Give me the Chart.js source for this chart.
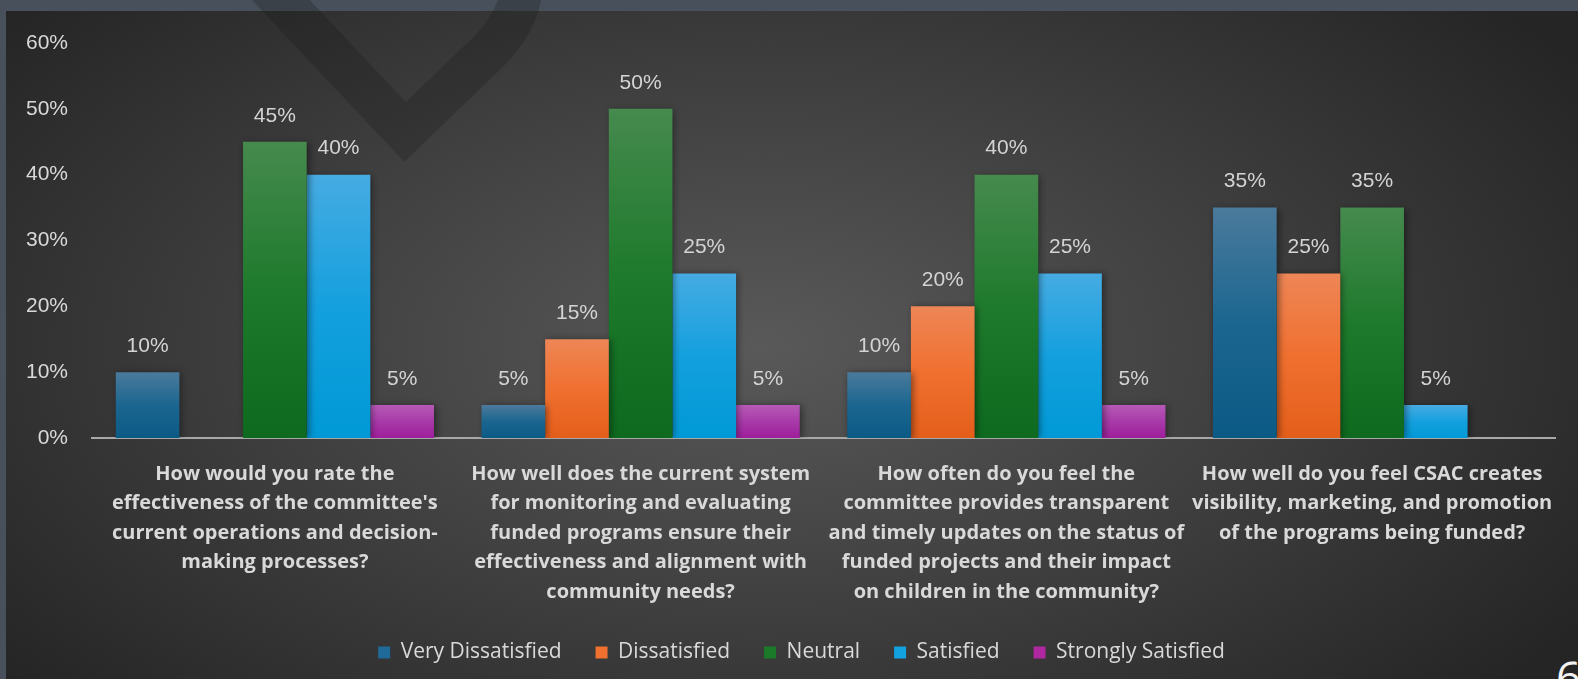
<!DOCTYPE html>
<html>
<head>
<meta charset="utf-8">
<script src="https://cdn.jsdelivr.net/npm/chart.js@4.4.1/dist/chart.umd.min.js"></script>
<style>
  html, body { margin: 0; padding: 0; width: 1578px; height: 679px; overflow: hidden; background: #48505b; }
  #panel { position: absolute; left: 6px; top: 11px; width: 1572px; height: 668px;
    background: radial-gradient(ellipse 62% 78% at 48% 50%, #595959 0%, #3d3d3d 55%, #252525 100%); }
  #wrap { position: absolute; left: 0; top: 0; width: 1578px; height: 679px; }
  #pg { position: absolute; left: 1556px; top: 646px; font: 44px "Open Sans", sans-serif; color: #f2f2f2; }
</style>
</head>
<body>
<div id="panel"></div>
<div id="pg">6</div>
<div id="wrap"><canvas id="c" width="1578" height="679"></canvas></div>
<script>
const categories = [
  ["How would you rate the", "effectiveness of the committee's", "current operations and decision-", "making processes?"],
  ["How well does the current system", "for monitoring and evaluating", "funded programs ensure their", "effectiveness and alignment with", "community needs?"],
  ["How often do you feel the", "committee provides transparent", "and timely updates on the status of", "funded projects and their impact", "on children in the community?"],
  ["How well do you feel CSAC creates", "visibility, marketing, and promotion", "of the programs being funded?"]
];
const seriesNames = ["Very Dissatisfied", "Dissatisfied", "Neutral", "Satisfied", "Strongly Satisfied"];
const veryDissatisfied = [10, 5, 10, 35];
const dissatisfied = [null, 15, 20, 25];
const neutral = [45, 50, 40, 35];
const satisfied = [40, 25, 25, 5];
const stronglySatisfied = [5, 5, 5, null];
const yTicks = [0, 10, 20, 30, 40, 50, 60];

const palettes = [
  { solid: '#1f6a98', stops: ['#4b7a9c', '#1b6690', '#0b5a85'] },
  { solid: '#f07030', stops: ['#ee8656', '#f07030', '#e45e1a'] },
  { solid: '#1a7a2a', stops: ['#468a4e', '#1e7a2c', '#0d6a1e'] },
  { solid: '#12a2e0', stops: ['#46abe2', '#14a0de', '#0099d6'] },
  { solid: '#b0289f', stops: ['#b65ab6', '#a83aa8', '#9e1e9c'] }
];

function gradientFill(idx) {
  return (context) => {
    const chart = context.chart;
    const p = palettes[idx];
    if (!chart.chartArea || context.raw == null) return p.solid;
    const y = chart.scales.y;
    const top = y.getPixelForValue(context.raw);
    const bottom = y.getPixelForValue(0);
    if (!(bottom > top)) return p.solid;
    const g = chart.ctx.createLinearGradient(0, top, 0, bottom);
    g.addColorStop(0, p.stops[0]);
    g.addColorStop(0.5, p.stops[1]);
    g.addColorStop(1, p.stops[2]);
    return g;
  };
}

const seriesData = [veryDissatisfied, dissatisfied, neutral, satisfied, stronglySatisfied];

const decor = {
  id: 'decor',
  afterLayout(chart) {
    const L = chart.legend;
    if (L) { L.left += 24; L.right += 24; }
  },
  beforeDraw(chart) {
    const c = chart.ctx;
    c.save();
    c.strokeStyle = 'rgba(22,22,22,0.26)';
    c.lineWidth = 42;
    c.lineJoin = 'miter';
    c.beginPath();
    c.moveTo(262, -20);
    c.lineTo(405, 132);
    c.lineTo(488, 52);
    c.quadraticCurveTo(522, 18, 522, -20);
    c.stroke();
    c.restore();
  },
  beforeDatasetsDraw(chart) {
    const c = chart.ctx;
    c.save();
    c.shadowColor = 'rgba(0,0,0,0.45)';
    c.shadowBlur = 7;
    c.shadowOffsetX = 2;
    c.shadowOffsetY = 1;
  },
  afterDatasetsDraw(chart) {
    const c = chart.ctx;
    c.restore();
    c.save();
    c.font = '21px "Liberation Sans", Arial, sans-serif';
    c.fillStyle = '#d4d4d4';
    c.textAlign = 'center';
    c.textBaseline = 'middle';
    chart.data.datasets.forEach((ds, i) => {
      const meta = chart.getDatasetMeta(i);
      meta.data.forEach((bar, j) => {
        const v = ds.data[j];
        if (v == null) return;
        c.fillText(v + '%', bar.x, bar.y - 26);
      });
    });
    c.restore();
  }
};

new Chart(document.getElementById('c'), {
  type: 'bar',
  data: {
    labels: categories,
    datasets: seriesNames.map((name, i) => ({
      label: name,
      data: seriesData[i],
      backgroundColor: gradientFill(i),
      borderWidth: 0,
      barPercentage: 1.0,
      categoryPercentage: 0.87
    }))
  },
  options: {
    responsive: false,
    animation: false,
    devicePixelRatio: 1,
    layout: { padding: { left: 0, right: 23, top: 43, bottom: 6 } },
    plugins: {
      legend: {
        position: 'bottom',
        labels: {
          color: '#d9d9d9',
          font: { family: '"Open Sans"', size: 21 },
          boxWidth: 12,
          boxHeight: 12,
          padding: 34,
          generateLabels(chart) {
            return chart.data.datasets.map((ds, i) => ({
              text: ds.label,
              fillStyle: palettes[i].solid,
              strokeStyle: palettes[i].solid,
              lineWidth: 0,
              fontColor: '#d9d9d9',
              datasetIndex: i,
              hidden: false
            }));
          }
        }
      },
      tooltip: { enabled: false }
    },
    scales: {
      x: {
        grid: { display: false, drawTicks: false },
        border: { display: true, color: '#a8a8a8', width: 2 },
        ticks: {
          color: '#d9d9d9',
          padding: 21,
          maxRotation: 0,
          autoSkip: false,
          font: { family: '"Open Sans"', weight: 'bold', size: 20, lineHeight: 1.48 }
        },
        afterFit(s) { s.height = 170; }
      },
      y: {
        min: 0,
        max: 60,
        grid: { display: false, drawTicks: false },
        border: { display: false },
        afterBuildTicks(s) { s.ticks = yTicks.map(v => ({ value: v })); },
        ticks: {
          color: '#d9d9d9',
          padding: 24,
          font: { family: '"Liberation Sans", Arial, sans-serif', size: 21 },
          callback: v => v + '%'
        },
        afterFit(s) { s.width = 92; }
      }
    }
  },
  plugins: [decor]
});
</script>
</body>
</html>
